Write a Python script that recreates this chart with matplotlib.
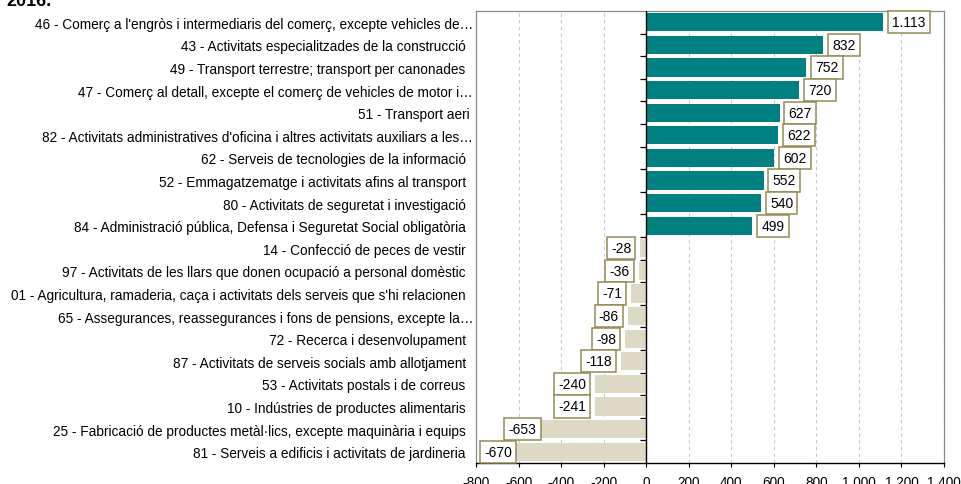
import matplotlib
matplotlib.use("Agg")
import matplotlib.pyplot as plt
from matplotlib.ticker import FuncFormatter

# -----------------------------
# Data
# -----------------------------
sectors = [
    "46 - Comerç a l'engròs i intermediaris del comerç, excepte vehicles de…",
    "43 - Activitats especialitzades de la construcció  ",
    "49 - Transport terrestre; transport per canonades  ",
    "47 - Comerç al detall, excepte el comerç de vehicles de motor i…",
    "51 - Transport aeri ",
    "82 - Activitats administratives d'oficina i altres activitats auxiliars a les…",
    "62 - Serveis de tecnologies de la informació  ",
    "52 - Emmagatzematge i activitats afins al transport  ",
    "80 - Activitats de seguretat i investigació  ",
    "84 - Administració pública, Defensa i Seguretat Social obligatòria  ",
    "14 - Confecció de peces de vestir  ",
    "97 - Activitats de les llars que donen ocupació a personal domèstic  ",
    "01 - Agricultura, ramaderia, caça i activitats dels serveis que s'hi relacionen  ",
    "65 - Assegurances, reassegurances i fons de pensions, excepte la…",
    "72 - Recerca i desenvolupament  ",
    "87 - Activitats de serveis socials amb allotjament  ",
    "53 - Activitats postals i de correus  ",
    "10 - Indústries de productes alimentaris  ",
    "25 - Fabricació de productes metàl·lics, excepte maquinària i equips  ",
    "81 - Serveis a edificis i activitats de jardineria  ",
]
values = [1113, 832, 752, 720, 627, 622, 602, 552, 540, 499,
          -28, -36, -71, -86, -98, -118, -240, -241, -653, -670]
x_ticks = [-800, -600, -400, -200, 0, 200, 400, 600, 800, 1000, 1200, 1400]
title = "2016."

# -----------------------------
# Style
# -----------------------------
plt.rcParams["font.family"] = ["Liberation Sans", "DejaVu Sans"]
plt.rcParams["font.size"] = 9.8

pos_color = "#008080"
neg_color = "#DDD9C4"
box_edge = "#948A54"

fig = plt.figure(figsize=(9.61, 4.85), dpi=100)
ax = fig.add_axes([476 / 961, 1 - 464 / 485, (944 - 476) / 961, (464 - 12) / 485])

ypos = list(range(len(values)))
colors = [pos_color if v >= 0 else neg_color for v in values]
ax.barh(ypos, values, height=0.8, color=colors, zorder=2)

ax.set_xlim(-800, 1400)
ax.set_ylim(len(values) - 0.5, -0.5)
ax.set_xticks(x_ticks)
ax.xaxis.set_major_formatter(FuncFormatter(lambda v, p: f"{int(v):,}".replace(",", ".")))
ax.tick_params(axis="x", direction="out", length=3, width=0.8, color="black", pad=5.5)

ax.set_yticks(ypos)
ax.set_yticklabels(sectors)
ax.tick_params(axis="y", length=0, pad=2)

ax.grid(axis="x", color="#C8C8C8", linestyle=(0, (3, 3)), linewidth=0.8, zorder=0)

for side in ["top", "right", "left"]:
    ax.spines[side].set_color("#8C8C8C")
    ax.spines[side].set_linewidth(0.9)
ax.spines["bottom"].set_color("black")
ax.spines["bottom"].set_linewidth(1.0)

# zero line with small ticks between categories
ax.axvline(0, color="black", linewidth=1.0, zorder=3)
bounds = [i + 0.5 for i in ypos[:-1]]
ax.plot([0] * len(bounds), bounds, linestyle="none", marker=0, markersize=4,
        markeredgewidth=0.9, color="black", zorder=3, clip_on=False)

# value labels in boxes
special = {18: 1.0, 19: -14.0}  # labels squeezed against the left frame (points)
for i, v in enumerate(values):
    txt = f"{v:,}".replace(",", ".")
    if v >= 0:
        off, ha = 6.5, "left"
    elif i in special:
        off, ha = special[i], "left"
    else:
        off, ha = -6.5, "right"
    ax.annotate(txt, (v, i), xytext=(off, 0), textcoords="offset points",
                ha=ha, va="center", fontsize=10, zorder=4,
                bbox=dict(boxstyle="square,pad=0.3", facecolor="white",
                          edgecolor=box_edge, linewidth=1.1))

fig.text(6 / 961, 1 - 6 / 485, title, fontsize=13, fontweight="bold", va="baseline", ha="left")

plt.savefig("out.png", dpi=100)
plt.close()
